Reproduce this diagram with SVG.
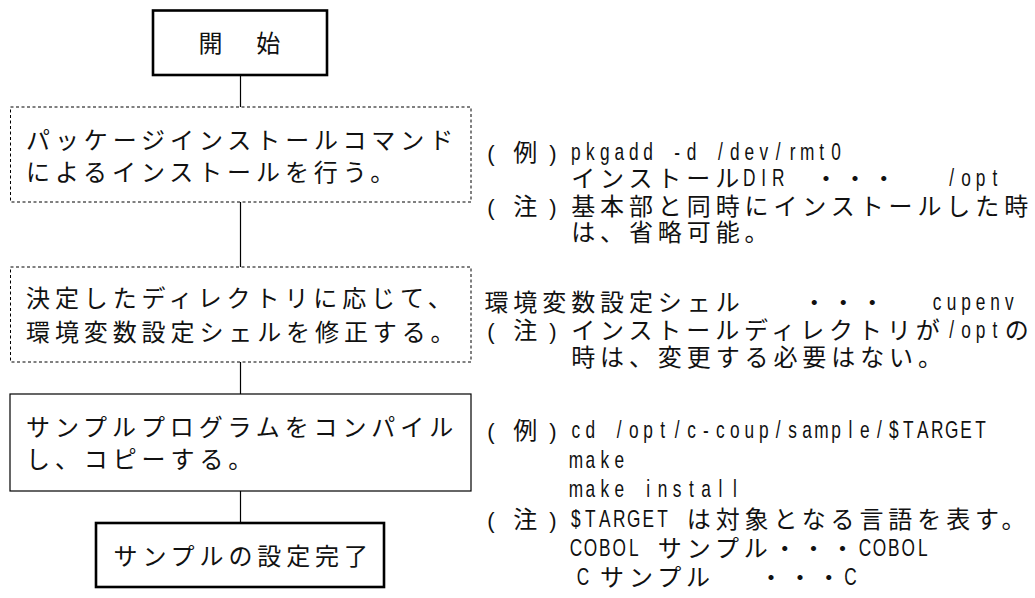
<svg xmlns="http://www.w3.org/2000/svg" width="1035" height="598" viewBox="0 0 1035 598">
<style>
.bg{fill:#fff}
.thick{fill:#fff;stroke:#000;stroke-width:2.6}
.thin{fill:#fff;stroke:#000;stroke-width:1.2}
.dot{fill:#fff;stroke:#000;stroke-width:1;stroke-dasharray:3 2.5}
.conn{stroke:#000;stroke-width:1.2;fill:none}
.j{font-family:"Noto Sans CJK JP","Noto Sans CJK SC",sans-serif;font-size:24px;letter-spacing:4.9px;fill:#111}
.l{font-family:"Liberation Sans","Noto Sans CJK JP",sans-serif;font-size:24px;text-anchor:middle;fill:#111}
.p{font-family:"Liberation Sans",sans-serif;font-size:22px;text-anchor:middle;fill:#111}
</style>
<rect class="bg" x="0" y="0" width="1035" height="598"/>
<g id="connectors">
<line class="conn" x1="240.5" y1="75" x2="240.5" y2="107"/>
<line class="conn" x1="240.5" y1="202" x2="240.5" y2="267"/>
<line class="conn" x1="240.5" y1="362" x2="240.5" y2="394"/>
<line class="conn" x1="240.5" y1="491" x2="240.5" y2="523"/>
</g>
<g id="start">
<rect class="thick" x="153" y="10.5" width="174" height="64.5"/>
<text class="j" x="198.5" y="52">開　始</text>
</g>
<g id="install">
<rect class="dot" x="10.5" y="107" width="460.5" height="95"/>
<text class="j" x="26" y="149">パッケージインストールコマンド</text>
<text class="j" x="26" y="181">によるインストールを行う。</text>
</g>
<g id="envshell">
<rect class="dot" x="10.5" y="267" width="460.5" height="95"/>
<text class="j" x="26" y="307">決定したディレクトリに応じて、</text>
<text class="j" x="26" y="340.5">環境変数設定シェルを修正する。</text>
</g>
<g id="compile">
<rect class="thin" x="10" y="394" width="461" height="97"/>
<text class="j" x="26" y="436">サンプルプログラムをコンパイル</text>
<text class="j" x="26" y="467.5">し、コピーする。</text>
</g>
<g id="done">
<rect class="thick" x="96" y="523" width="288" height="64"/>
<text class="j" x="113.5" y="564.5">サンプルの設定完了</text>
</g>
<g id="notes">
<!-- line 1 -->
<text class="p" x="491" y="160.5">(</text>
<text class="j" x="513.3" y="160.5">例</text>
<text class="p" x="553" y="160.5">)</text>
<text class="l" transform="scale(0.72 1)" x="799.90 819.97 840.04 860.11 880.18 900.24 920.31 940.38 960.45 980.52 1000.59 1020.66 1040.72 1060.79 1080.86 1100.93 1121.00 1141.07 1161.14" y="160.5">pkgadd -d /dev/rmt0</text>
<!-- line 2 -->
<text class="j" x="571.15" y="186.5">インストール</text>
<text class="l" transform="scale(0.72 1)" x="1040.72 1060.79 1080.86" y="186.5">DIR</text>
<text class="j" x="814" y="186.5">・・・</text>
<text class="l" transform="scale(0.72 1)" x="1321.68 1341.75 1361.82 1381.89" y="186.5">/opt</text>
<!-- line 3 -->
<text class="p" x="491" y="214.5">(</text>
<text class="j" x="513.3" y="214.5">注</text>
<text class="p" x="553" y="214.5">)</text>
<text class="j" x="571.15" y="214.5">基本部と同時にインストールした時</text>
<!-- line 4 -->
<text class="j" x="571.15" y="240.5">は、省略可能。</text>
<!-- line 5 -->
<text class="j" x="484.45" y="310.5">環境変数設定シェル</text>
<text class="j" x="802.35" y="310.5">・・・</text>
<text class="l" transform="scale(0.72 1)" x="1301.62 1321.68 1341.75 1361.82 1381.89 1401.96" y="310.5">cupenv</text>
<!-- line 6 -->
<text class="p" x="491" y="338.5">(</text>
<text class="j" x="513.3" y="338.5">注</text>
<text class="p" x="553" y="338.5">)</text>
<text class="j" x="571.15" y="338.5">インストールディレクトリが</text>
<text class="l" transform="scale(0.72 1)" x="1321.68 1341.75 1361.82 1381.89" y="338.5">/opt</text>
<text class="j" x="1004.65" y="338.5">の</text>
<!-- line 7 -->
<text class="j" x="571.15" y="365.5">時は、変更する必要はない。</text>
<!-- line 8 -->
<text class="p" x="491" y="438.5">(</text>
<text class="j" x="513.3" y="438.5">例</text>
<text class="p" x="553" y="438.5">)</text>
<text class="l" transform="scale(0.72 1)" x="799.90 819.97 840.04 860.11 880.18 900.24 920.31 940.38 960.45 980.52 1000.59 1020.66 1040.72 1060.79 1080.86 1100.93 1121.00 1141.07 1161.14 1181.20 1201.27 1221.34 1241.41 1261.48 1281.55 1301.62 1321.68 1341.75 1361.82" y="438.5">cd /opt/c-coup/sample/$TARGET</text>
<!-- line 9 -->
<text class="l" transform="scale(0.72 1)" x="799.90 819.97 840.04 860.11" y="468.5">make</text>
<!-- line 10 -->
<text class="l" transform="scale(0.72 1)" x="799.90 819.97 840.04 860.11 880.18 900.24 920.31 940.38 960.45 980.52 1000.59 1020.66" y="497.5">make install</text>
<!-- line 11 -->
<text class="p" x="491" y="527.5">(</text>
<text class="j" x="513.3" y="527.5">注</text>
<text class="p" x="553" y="527.5">)</text>
<text class="l" transform="scale(0.72 1)" x="799.90 819.97 840.04 860.11 880.18 900.24 920.31" y="527.5">$TARGET</text>
<text class="j" x="686.75" y="527.5">は対象となる言語を表す。</text>
<!-- line 12 -->
<text class="l" transform="scale(0.72 1)" x="799.90 819.97 840.04 860.11 880.18" y="556.5">COBOL</text>
<text class="j" x="657.85" y="556.5">サンプル・・・</text>
<text class="l" transform="scale(0.72 1)" x="1201.27 1221.34 1241.41 1261.48 1281.55" y="556.5">COBOL</text>
<!-- line 13 -->
<text class="l" transform="scale(0.72 1)" x="809.72" y="585.5">C</text>
<text class="j" x="600.05" y="585.5">サンプル</text>
<text class="j" x="759" y="585.5">・・・</text>
<text class="l" transform="scale(0.72 1)" x="1181.20" y="585.5">C</text>
</g>
</svg>
